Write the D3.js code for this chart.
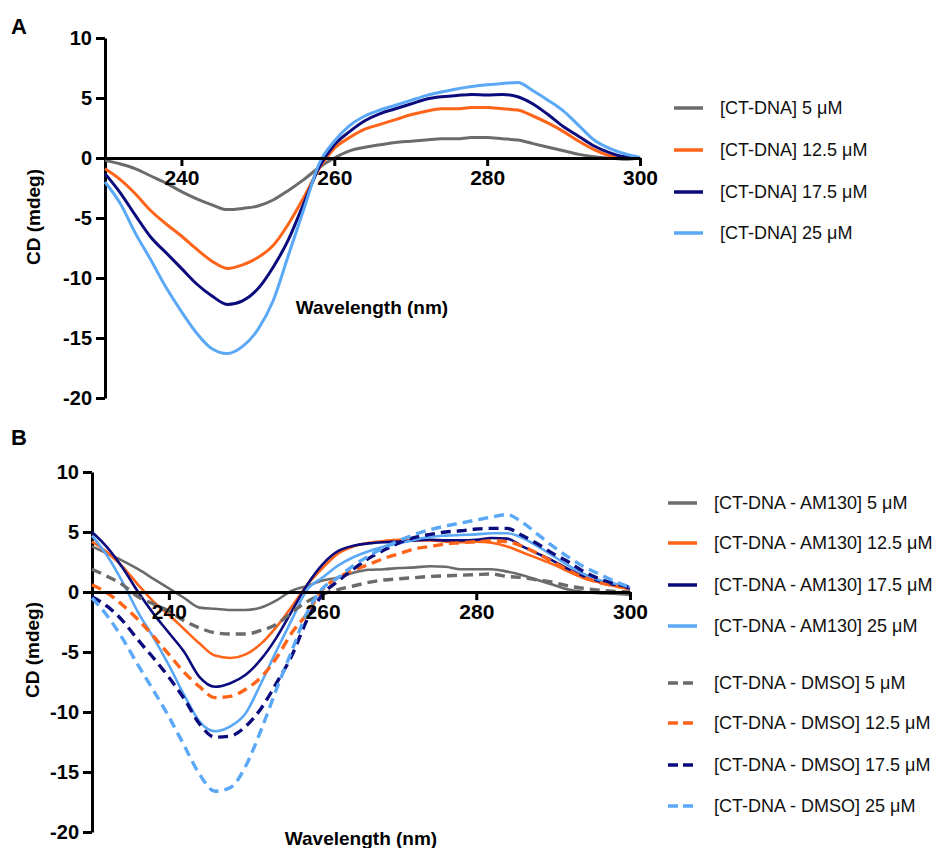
<!DOCTYPE html>
<html>
<head>
<meta charset="utf-8">
<script src="https://cdn.jsdelivr.net/npm/d3@7"></script>
<style>
  body { margin: 0; background: #fff; }
  text { font-family: Arial, "Liberation Sans", sans-serif; }
</style>
</head>
<body>
<script>
  // wavelength grid (nm)
  const wavelengths = [230, 232, 234, 236, 238, 240, 242, 244, 246, 248, 250, 252, 254, 256, 258, 260, 262, 264,
    266, 268, 270, 272, 274, 276, 278, 280, 282, 284, 286, 288, 290, 292, 294, 296, 298, 300];

  const xTicks = [240, 260, 280, 300];
  const yTicks = [10, 5, 0, -5, -10, -15, -20];

  // panel A : CT-DNA alone
  const labelsA = ["[CT-DNA] 5 \u03bcM", "[CT-DNA] 12.5 \u03bcM", "[CT-DNA] 17.5 \u03bcM", "[CT-DNA] 25 \u03bcM"];
  const dna5 = [-0.2, -0.5, -0.9, -1.5, -2.1, -2.8, -3.4, -3.9, -4.3, -4.2, -4.0, -3.5, -2.7, -1.8, -0.8, 0.0, 0.6, 0.9,
    1.1, 1.3, 1.4, 1.5, 1.6, 1.6, 1.7, 1.7, 1.6, 1.5, 1.2, 0.9, 0.6, 0.3, 0.1, 0.0, -0.1, 0.0];
  const dna125 = [-0.9, -1.8, -3.0, -4.4, -5.5, -6.5, -7.6, -8.6, -9.2, -8.9, -8.3, -7.3, -5.5, -3.3, -0.9, 0.8, 1.7, 2.4,
    2.8, 3.2, 3.6, 3.9, 4.1, 4.1, 4.2, 4.2, 4.1, 4.0, 3.5, 2.9, 2.2, 1.4, 0.7, 0.2, 0.0, 0.0];
  const dna175 = [-1.3, -2.9, -4.8, -6.6, -7.9, -9.2, -10.5, -11.5, -12.2, -11.9, -10.9, -9.1, -6.8, -3.8, -0.8, 1.1, 2.2, 3.1,
    3.7, 4.1, 4.5, 4.9, 5.1, 5.2, 5.3, 5.25, 5.3, 5.1, 4.5, 3.6, 2.6, 1.8, 1.0, 0.45, 0.1, 0.0];
  const dna25 = [-2.0, -3.8, -6.3, -8.5, -10.8, -12.8, -14.6, -15.9, -16.3, -15.7, -14.3, -11.9, -8.1, -4.3, -0.5, 1.4, 2.7, 3.5,
    4.0, 4.4, 4.8, 5.2, 5.5, 5.75, 5.95, 6.1, 6.2, 6.3, 5.6, 4.8, 3.9, 2.7, 1.5, 0.8, 0.35, 0.05];

  // panel B : CT-DNA with AM130 (solid) and with DMSO (dashed)
  const labelsB = ["[CT-DNA - AM130] 5 \u03bcM", "[CT-DNA - AM130] 12.5 \u03bcM", "[CT-DNA - AM130] 17.5 \u03bcM", "[CT-DNA - AM130] 25 \u03bcM",
    "[CT-DNA - DMSO] 5 \u03bcM", "[CT-DNA - DMSO] 12.5 \u03bcM", "[CT-DNA - DMSO] 17.5 \u03bcM", "[CT-DNA - DMSO] 25 \u03bcM"];
  const am5 = [3.8, 3.2, 2.6, 1.9, 1.1, 0.3, -0.5, -1.3, -1.4, -1.5, -1.5, -1.3, -0.7, 0.1, 0.5, 0.95, 1.2, 1.6,
    1.85, 1.9, 2.0, 2.05, 2.15, 2.1, 1.9, 1.9, 1.9, 1.7, 1.4, 1.0, 0.6, 0.2, 0.0, -0.1, -0.15, -0.25];
  const am125 = [4.2, 3.3, 2.1, 0.6, -0.8, -1.9, -3.1, -4.3, -5.3, -5.5, -5.2, -4.3, -2.9, -1.2, 0.6, 2.0, 3.2, 3.8,
    4.1, 4.25, 4.35, 4.3, 4.3, 4.2, 4.15, 4.2, 4.1, 3.8, 3.3, 2.8, 2.3, 1.7, 1.15, 0.8, 0.5, 0.22];
  const am175 = [5.0, 3.7, 2.0, 0.0, -1.8, -3.4, -5.0, -7.1, -7.9, -7.6, -6.9, -5.6, -3.8, -1.6, 0.6, 2.3, 3.4, 3.85,
    4.05, 4.15, 4.2, 4.3, 4.35, 4.3, 4.3, 4.35, 4.5, 4.45, 3.8, 3.2, 2.6, 1.9, 1.3, 0.9, 0.6, 0.3];
  const am25 = [4.7, 3.0, 0.8, -1.7, -3.8, -6.1, -8.6, -10.8, -11.6, -11.2, -10.1, -7.6, -4.9, -2.3, 0.2, 1.2, 2.2, 2.9,
    3.4, 3.8, 4.05, 4.35, 4.6, 4.7, 4.75, 4.8, 4.9, 4.9, 4.5, 3.8, 3.0, 2.2, 1.5, 1.0, 0.7, 0.4];
  const dmso5 = [1.9, 1.3, 0.6, -0.4, -1.0, -1.6, -2.4, -3.0, -3.4, -3.5, -3.5, -3.2, -2.7, -1.7, -0.8, -0.2, 0.2, 0.5,
    0.8, 1.0, 1.1, 1.2, 1.3, 1.35, 1.4, 1.45, 1.5, 1.3, 1.2, 1.0, 0.8, 0.5, 0.3, 0.15, 0.05, 0.0];
  const dmso125 = [0.6, -0.1, -1.1, -2.3, -3.7, -5.2, -6.7, -7.9, -8.8, -8.7, -8.1, -7.1, -5.5, -3.4, -1.8, 0.2, 1.2, 1.8,
    2.3, 2.8, 3.2, 3.6, 3.8, 4.0, 4.1, 4.2, 4.25, 4.2, 3.8, 3.2, 2.5, 1.8, 1.2, 0.8, 0.5, 0.3];
  const dmso175 = [-0.4, -1.2, -2.4, -4.0, -5.5, -7.1, -8.9, -11.0, -12.1, -12.0, -11.2, -9.7, -7.6, -5.3, -2.3, -0.2, 0.9, 1.9,
    2.8, 3.5, 4.1, 4.55, 4.8, 5.0, 5.1, 5.25, 5.3, 5.3, 4.7, 4.0, 3.2, 2.5, 1.7, 1.1, 0.7, 0.4];
  const dmso25 = [-0.5, -2.0, -3.9, -6.1, -8.2, -10.4, -12.8, -15.2, -16.6, -16.3, -14.5, -11.5, -8.1, -4.9, -1.7, 0.3, 1.2, 2.2,
    3.0, 3.7, 4.3, 4.8, 5.2, 5.5, 5.75, 6.0, 6.25, 6.45, 5.8, 4.8, 3.8, 2.9, 2.1, 1.5, 0.9, 0.4];

  const colors = ["#6b6b6b", "#ff6418", "#0b0b7d", "#5aa8f6"];

  const svg = d3.select("body").append("svg")
    .attr("width", 949)
    .attr("height", 848);

  function drawPanel(g, opts) {
    let xScale = d3.scaleLinear().domain([230, 300]).range([opts.left, opts.right]);
    let yScale = d3.scaleLinear().domain([-20, 10]).range([opts.bottom, opts.top]);

    // y axis, plain hyphen for negatives like the original
    let yAxis = d3.axisLeft(yScale).tickValues(yTicks).tickSize(9).tickSizeOuter(0).tickPadding(4)
      .tickFormat((d) => String(d));
    let gy = g.append("g")
      .attr("transform", "translate(" + opts.left + ",0)")
      .call(yAxis);
    styleAxis(gy);
    gy.selectAll(".tick text").attr("font-size", "20px");

    // series
    let line = d3.line()
      .x((d, i) => xScale(wavelengths[i]))
      .y((d) => yScale(d))
      .curve(d3.curveMonotoneX);

    opts.series.forEach((s) => {
      g.append("path")
        .datum(s.values)
        .attr("fill", "none")
        .attr("stroke", colors[s.color])
        .attr("stroke-width", s.dashed ? 3.4 : opts.lineWidth)
        .attr("stroke-dasharray", s.dashed ? "10,6" : null)
        .attr("d", line);
    });

    // x axis sits on zero
    let xAxis = d3.axisBottom(xScale).tickValues(xTicks).tickSize(8).tickSizeOuter(0).tickPadding(4)
      .tickFormat((d) => String(d));
    let gx = g.append("g")
      .attr("transform", "translate(0," + yScale(0) + ")")
      .call(xAxis);
    styleAxis(gx);
    gx.selectAll(".tick text").attr("font-size", "21px");

    // titles
    g.append("text")
      .attr("x", opts.xTitle[0])
      .attr("y", opts.xTitle[1])
      .attr("text-anchor", "middle")
      .style("font-size", "19px")
      .style("font-weight", "bold")
      .text("Wavelength (nm)");

    g.append("text")
      .attr("transform", "translate(" + opts.yTitle[0] + "," + opts.yTitle[1] + ")rotate(-90)")
      .attr("text-anchor", "middle")
      .attr("dominant-baseline", "central")
      .style("font-size", "19px")
      .style("font-weight", "bold")
      .text("CD (mdeg)");

    g.append("text")
      .attr("x", 11)
      .attr("y", opts.letterY)
      .style("font-size", "22px")
      .style("font-weight", "bold")
      .text(opts.letter);

    // legend
    opts.series.forEach((s, i) => {
      let ly = opts.legendY[i];
      g.append("line")
        .attr("x1", opts.legendX)
        .attr("x2", opts.legendX + 29)
        .attr("y1", ly)
        .attr("y2", ly)
        .attr("stroke", colors[s.color])
        .attr("stroke-width", 3.5)
        .attr("stroke-dasharray", s.dashed ? "10,5" : null);
      g.append("text")
        .attr("x", opts.legendX + 46)
        .attr("y", ly)
        .attr("dominant-baseline", "central")
        .style("font-size", "18px")
        .style("fill", "#111")
        .text(s.label);
    });
  }

  function styleAxis(ax) {
    ax.select(".domain").attr("stroke", "#000").attr("stroke-width", 3);
    ax.selectAll(".tick line").attr("stroke", "#000").attr("stroke-width", 3);
    ax.selectAll(".tick text")
      .attr("fill", "#000")
      .attr("font-size", "19px")
      .attr("font-weight", "bold")
      .attr("font-family", "Arial, 'Liberation Sans', sans-serif");
  }

  drawPanel(svg.append("g"), {
    letter: "A", letterY: 34,
    left: 105, right: 640, top: 38, bottom: 398,
    lineWidth: 3,
    xTitle: [372, 314], yTitle: [33, 217],
    legendX: 674, legendY: [108, 150, 192, 233],
    series: [
      { values: dna5, color: 0, label: labelsA[0] },
      { values: dna125, color: 1, label: labelsA[1] },
      { values: dna175, color: 2, label: labelsA[2] },
      { values: dna25, color: 3, label: labelsA[3] }
    ]
  });

  drawPanel(svg.append("g"), {
    letter: "B", letterY: 445,
    left: 92, right: 630, top: 472, bottom: 832,
    lineWidth: 2.6,
    xTitle: [361, 845], yTitle: [32, 650],
    legendX: 668, legendY: [503, 543, 585, 626, 683, 723, 765, 806],
    series: [
      { values: am5, color: 0, label: labelsB[0] },
      { values: am125, color: 1, label: labelsB[1] },
      { values: am175, color: 2, label: labelsB[2] },
      { values: am25, color: 3, label: labelsB[3] },
      { values: dmso5, color: 0, dashed: true, label: labelsB[4] },
      { values: dmso125, color: 1, dashed: true, label: labelsB[5] },
      { values: dmso175, color: 2, dashed: true, label: labelsB[6] },
      { values: dmso25, color: 3, dashed: true, label: labelsB[7] }
    ]
  });
</script>
</body>
</html>
